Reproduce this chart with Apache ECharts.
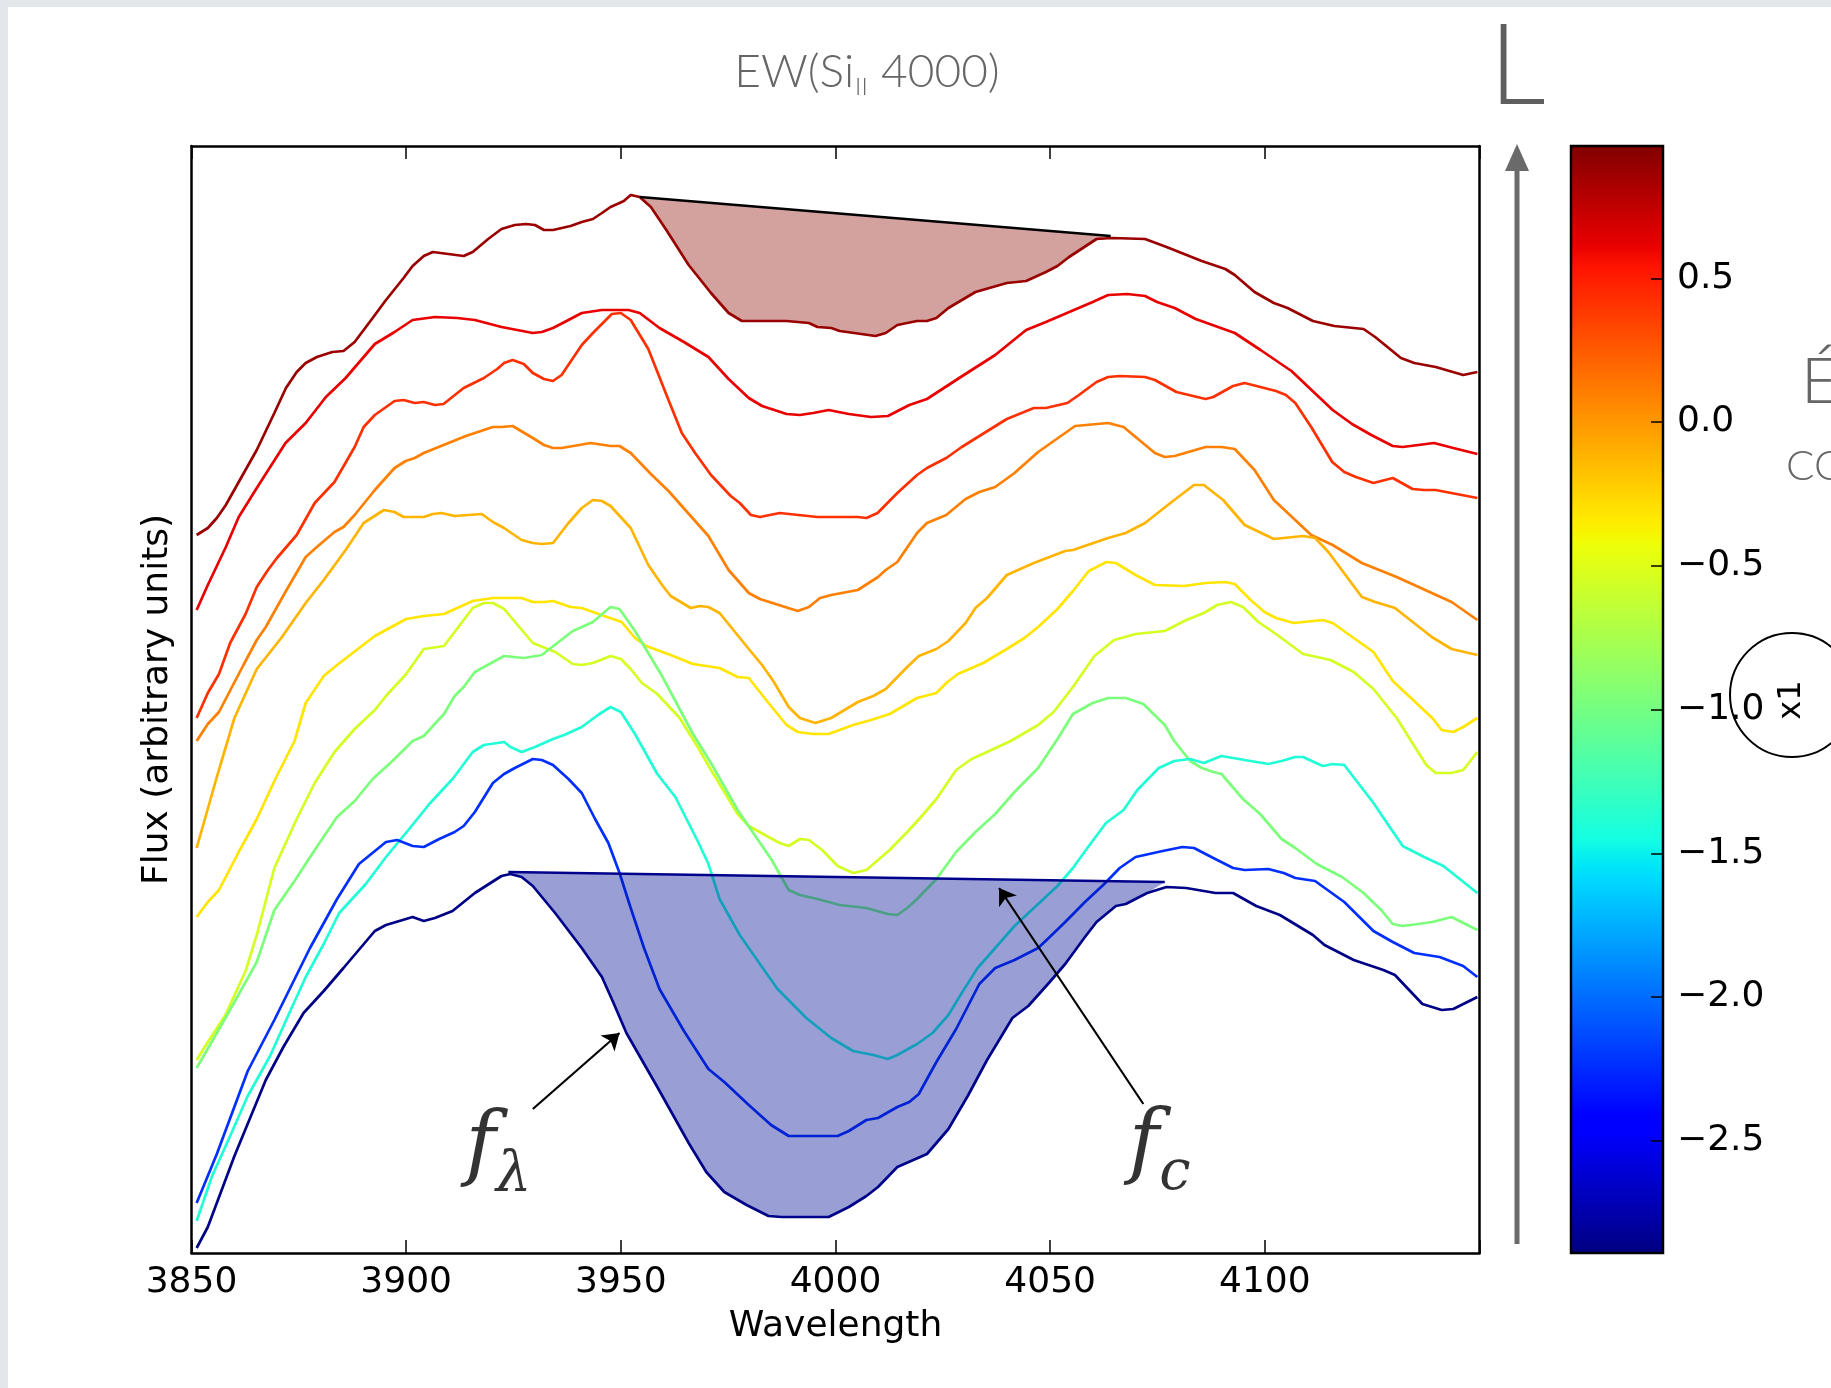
<!DOCTYPE html>
<html>
<head>
<meta charset="utf-8">
<script src="https://cdn.jsdelivr.net/npm/echarts@6/dist/echarts.min.js"></script>
<style>
  html, body { margin: 0; padding: 0; background: #fff; }
  #chart { width: 1831px; height: 1388px; }
</style>
</head>
<body>
<div id="chart"></div>
<script>
// ---------------- DATA ----------------
const xTickLabels = [3850, 3900, 3950, 4000, 4050, 4100];
const colorbarTicks = [-2.5, -2.0, -1.5, -1.0, -0.5, 0.0, 0.5];
const colorbarRange = [-2.89, 0.96];
// x1 (stretch) value of each spectrum, top to bottom
const x1Values = [0.87, 0.61, 0.42, 0.09, -0.12, -0.32, -0.55, -0.96, -1.39, -2.23, -2.87];

const specDarkRed = [[3851.2,718],[3853.8,725],[3855.9,735],[3858,748],[3861,771],[3865.2,803],[3869.3,840],[3872,865],[3874.5,881],[3876.6,890],[3879.2,896],[3882.8,901],[3885.4,902],[3888,911],[3892.2,935],[3895.3,953],[3899.4,975],[3901.5,987],[3904.1,997],[3906.2,1001],[3909.8,999],[3913.4,997],[3915.5,1001],[3919.1,1014],[3922.2,1024],[3925.3,1028],[3927.9,1029],[3930,1028],[3932.1,1023],[3934.2,1023],[3938.3,1027],[3940.9,1031],[3943.5,1034],[3945.6,1040],[3947.6,1046],[3949.7,1050],[3950.7,1052],[3952.3,1058],[3954.4,1056],[3957,1046],[3960.6,1023],[3965.8,988],[3971,960],[3975.1,940],[3978.2,932],[3988.6,932],[3993.8,930],[3995.8,926],[3999,925],[4001,922],[4009.3,917],[4011.7,920],[4014.4,928],[4019,932],[4021.3,932],[4023.5,935],[4026.3,945],[4032.6,961],[4039.9,970],[4044.4,972],[4049,981],[4051.7,987],[4054.4,996],[4060.8,1014],[4064.4,1015],[4072.1,1014],[4077.1,1006],[4085.3,992],[4090.8,984],[4093,978],[4097.6,961],[4102.1,950],[4105.3,945],[4111.2,932],[4116.2,927],[4123,924],[4125.7,916],[4131.7,895],[4134.8,890],[4139.8,886],[4146.2,878],[4149.5,881]];
const specRed = [[3851.2,643],[3853.8,668],[3858,706],[3861,736],[3865.2,765],[3871.9,810],[3876.6,830],[3881.3,856],[3885.9,875],[3890.1,896],[3892.7,909],[3897.3,921],[3901.5,933],[3906.7,936],[3911.9,935],[3916,933],[3922.2,926],[3929.5,920],[3931.6,921],[3934.2,925],[3937.8,933],[3940.9,940],[3945.6,943],[3951.8,943],[3954.4,940],[3959,925],[3964.7,911],[3970.4,896],[3975.1,874],[3979.8,855],[3982.9,847],[3988.6,839],[3991.7,838],[3994.8,840],[3998.4,843],[4003.1,839],[4008.3,836],[4012.2,837],[4017.2,848],[4021.3,854],[4029.9,878],[4037.2,898],[4044.4,923],[4049,931],[4059.9,951],[4063.5,958],[4068,959],[4072.1,957],[4074.9,951],[4079,945],[4083.9,934],[4093,920],[4099,903],[4106.2,882],[4115.8,843],[4120.3,829],[4124.8,818],[4129.8,807],[4132.1,806],[4139.4,810],[4143.9,805],[4149.5,799]];
const specRedOrange = [[3851.2,535],[3853.8,560],[3856.4,579],[3859,610],[3862.6,639],[3865.2,666],[3867.8,683],[3869.9,695],[3874.5,718],[3878.7,750],[3883.3,771],[3888,806],[3890.1,826],[3892.7,838],[3897.3,852],[3899.4,853],[3902,850],[3904.1,851],[3906.7,848],[3908.7,849],[3913.4,865],[3918.1,875],[3921.2,884],[3922.8,890],[3924.8,893],[3927.4,889],[3929.5,880],[3932.1,874],[3934.2,872],[3936.2,878],[3940.9,908],[3943.5,920],[3947.9,939],[3950,940],[3952.3,933],[3956.4,904],[3961.1,853],[3964.2,820],[3967.3,800],[3971,778],[3975.6,757],[3977.7,750],[3980.3,738],[3982.4,736],[3987,740],[3995.8,736],[4003.1,736],[4005.2,736],[4007.2,735],[4009.8,740],[4014.4,760],[4019,778],[4021.3,785],[4025.8,795],[4029.4,806],[4039.9,834],[4046.2,845],[4049,845],[4054,850],[4056.7,858],[4060.8,871],[4063.5,876],[4066.2,877],[4072.1,876],[4074.4,873],[4079.4,861],[4086.2,854],[4088,856],[4092.6,867],[4095.3,870],[4102.6,862],[4104.9,858],[4107.1,850],[4110.8,826],[4115.7,791],[4118.5,781],[4121.2,776],[4125.3,770],[4129.8,775],[4134.4,764],[4137.1,763],[4139.8,763],[4149.5,755]];
const specOrange = [[3851.2,512],[3853.8,529],[3856.4,541],[3862.1,588],[3865.2,613],[3867.3,626],[3872,662],[3876.6,696],[3879.2,706],[3883.3,721],[3885.4,726],[3888,738],[3892.7,763],[3897.3,785],[3899.9,792],[3902,795],[3904.1,800],[3913.9,817],[3920.2,826],[3922.2,826],[3924.8,827],[3929.5,815],[3932.1,808],[3934.2,805],[3936.2,805],[3943,810],[3947.6,807],[3949.7,807],[3952.3,800],[3957,779],[3961.1,762],[3970.4,717],[3975.1,683],[3979.8,660],[3982.4,654],[3991.2,642],[3993.8,646],[3996.4,655],[3999,658],[4005.2,663],[4009.9,676],[4011.7,683],[4014.4,691],[4019,720],[4021.3,730],[4025.8,738],[4030.3,754],[4033.5,761],[4037.2,766],[4041.7,780],[4047.2,801],[4055.8,827],[4063.5,830],[4067.1,826],[4074.4,800],[4076.7,796],[4079,797],[4086.2,806],[4089.9,806],[4093,804],[4097.6,783],[4102.1,753],[4110.8,718],[4115.8,708],[4122.6,690],[4130.7,676],[4143.5,651],[4149.5,633]];
const specAmber = [[3851.2,405],[3855.9,476],[3860,535],[3865.2,584],[3870.9,615],[3876.6,650],[3880.8,673],[3885.9,703],[3890.1,730],[3894.8,743],[3897.3,741],[3899.4,736],[3904.1,736],[3906.2,739],[3908.2,740],[3911.3,737],[3917.6,739],[3920.2,731],[3922.8,725],[3926.9,713],[3929.5,710],[3931.6,709],[3934.2,710],[3937.8,730],[3940.9,745],[3943.5,753],[3945.6,752],[3947.6,747],[3952.3,725],[3956.4,688],[3959.6,668],[3961.6,657],[3966.3,645],[3968.4,647],[3970.4,646],[3973,640],[3979.8,604],[3982.9,588],[3985.5,572],[3989.1,546],[3991.7,535],[3995.3,530],[3999,535],[4002.1,543],[4005.2,551],[4008.8,557],[4011.7,564],[4016.7,586],[4019.4,597],[4023.5,604],[4026.3,612],[4030.3,630],[4032.6,645],[4035.3,655],[4039.9,678],[4046.2,690],[4053.5,702],[4055.3,703],[4063.5,715],[4067.6,720],[4072.1,730],[4078,750],[4083.5,768],[4085.8,768],[4090.3,753],[4095.3,728],[4102.1,714],[4108.9,717],[4111.7,715],[4114.8,701],[4122.6,656],[4125.7,651],[4130.3,645],[4138.9,616],[4143.5,604],[4149.5,598]];
const specYellow = [[3851.2,336],[3853.8,351],[3856.4,363],[3861,401],[3865.2,434],[3869.3,472],[3874,512],[3876.6,550],[3880.8,577],[3883.9,588],[3892.7,617],[3900,634],[3904.1,637],[3908.8,639],[3915.5,652],[3920.2,655],[3926.9,655],[3929.5,651],[3932.1,651],[3934.2,652],[3938.3,646],[3940.9,645],[3946.1,637],[3950.2,631],[3953.3,615],[3955.9,607],[3961.6,598],[3966.8,589],[3973,585],[3977.2,576],[3979.8,575],[3984.4,550],[3988.6,528],[3991.2,521],[3994.8,519],[3998.4,519],[4004.1,528],[4008.3,533],[4012.6,539],[4019,555],[4023.5,560],[4025.8,570],[4028.5,579],[4034.4,590],[4039.9,604],[4044,615],[4047.2,626],[4051.7,644],[4055.3,662],[4059,682],[4063.1,691],[4065.3,690],[4069.9,678],[4074.4,668],[4081.2,667],[4086.2,670],[4090.8,671],[4093,669],[4096.7,653],[4099.9,641],[4102.6,635],[4106.7,630],[4113.5,633],[4115.8,630],[4120.7,615],[4125.3,601],[4129.8,572],[4139,535],[4141.2,523],[4143.9,521],[4146.2,526],[4149.5,535]];
const specLime = [[3851.2,193],[3853.8,211],[3857.9,238],[3862.6,282],[3865.2,318],[3869.3,385],[3874.5,434],[3878.7,470],[3883.3,501],[3888,524],[3892.7,543],[3895.3,557],[3900,579],[3904.1,604],[3908.8,607],[3915.5,645],[3918.1,650],[3920.2,650],[3922.8,644],[3929.5,610],[3934.7,601],[3938.8,589],[3940.9,588],[3943.5,590],[3947.6,597],[3950,594],[3952.3,584],[3954.9,570],[3958.5,559],[3963.7,535],[3967.9,506],[3971,483],[3974.1,461],[3977.2,439],[3979.8,427],[3984.4,416],[3987,410],[3989.1,407],[3991.7,414],[3993.8,413],[3996.9,403],[4000.5,387],[4004.1,380],[4007.2,383],[4009.9,393],[4012.6,403],[4016.7,421],[4019.9,436],[4023.5,454],[4028.1,483],[4031.7,494],[4035.3,501],[4040.8,512],[4047.2,528],[4050.8,541],[4055.3,566],[4060.3,597],[4064.9,613],[4069.9,619],[4076.7,622],[4081.7,633],[4085.8,640],[4088.9,648],[4092.1,651],[4094.9,646],[4098.5,631],[4102.6,619],[4108.9,599],[4115.3,593],[4120.7,581],[4125.3,564],[4130.7,535],[4137.6,488],[4139.8,480],[4143.5,480],[4146.2,483],[4149.5,501]];
const specGreen = [[3851.2,185],[3855.9,220],[3860,251],[3865.2,291],[3869.3,343],[3874,372],[3878.7,403],[3883.9,436],[3888,452],[3892.2,474],[3896.8,492],[3901.5,512],[3904.1,517],[3908.8,539],[3911.3,557],[3913.4,566],[3916,581],[3922.8,597],[3927.4,595],[3931.6,598],[3938.8,622],[3943.5,631],[3947.6,646],[3949.7,644],[3953.3,622],[3959.6,577],[3966.8,519],[3971,490],[3977.2,443],[3981.8,414],[3985,394],[3989.1,363],[3991.7,358],[3995.8,354],[4001,348],[4007.2,345],[4012.2,339],[4014.4,338],[4016.7,345],[4019,354],[4023.5,374],[4028.1,401],[4032.6,421],[4037.2,439],[4041.7,461],[4047.2,485],[4051.7,514],[4055.3,539],[4059.9,550],[4063.5,555],[4067.6,555],[4071.7,549],[4076.7,528],[4078.9,512],[4082.6,492],[4085.3,485],[4088,481],[4089.9,479],[4094.9,454],[4098.9,439],[4103.9,414],[4107.1,405],[4112.1,389],[4118,376],[4123,360],[4127.1,343],[4129.8,329],[4132.1,327],[4135.7,329],[4139,331],[4143.5,336],[4149.5,323]];
const specCyan = [[3851.2,32],[3854.8,77],[3859,117],[3863.1,157],[3868.3,197],[3873,242],[3876.6,276],[3880.8,309],[3884.4,340],[3890.6,369],[3895.3,396],[3900.5,423],[3905.6,450],[3910.8,474],[3915.5,501],[3918.1,508],[3922.8,511],[3924.3,506],[3926.9,501],[3930,506],[3934.2,514],[3936.8,518],[3940.9,526],[3945,539],[3947.6,546],[3950,541],[3953.3,519],[3958.5,479],[3962.7,456],[3967.9,412],[3970.4,389],[3973,354],[3977.7,318],[3982.4,289],[3986.5,264],[3993.2,235],[3999,215],[4004.1,202],[4008.8,198],[4012.2,194],[4014.4,198],[4019,209],[4022.6,220],[4026.3,238],[4029.4,260],[4033.1,285],[4037.2,305],[4041.7,327],[4047.2,349],[4051.7,367],[4055.3,385],[4059,407],[4063,430],[4067.1,443],[4070.3,463],[4075.3,485],[4078.9,492],[4082.6,494],[4085.8,490],[4089.9,497],[4095.3,493],[4100.8,489],[4103.9,492],[4107.1,496],[4108.9,496],[4113.5,487],[4115.8,489],[4118.5,488],[4125.3,450],[4132.1,407],[4137.1,396],[4141.6,387],[4149.5,360]];
const specBlue = [[3851.2,50],[3855.9,99],[3863.1,182],[3869.3,233],[3877.6,305],[3883.9,354],[3889,389],[3895.3,411],[3897.9,413],[3901.5,407],[3904.1,406],[3907.7,414],[3911.3,421],[3913.4,427],[3916,441],[3920.2,470],[3922.8,479],[3925.3,485],[3929.5,494],[3931.6,493],[3934.2,488],[3937.8,474],[3940.9,460],[3944,434],[3947.1,410],[3949.7,380],[3952.3,345],[3955.4,305],[3959,264],[3964.7,222],[3970.4,184],[3974.1,171],[3979.8,148],[3985,128],[3989.1,117],[4000.5,117],[4003.1,122],[4007.2,133],[4009.9,135],[4014.4,146],[4017.2,151],[4019.4,159],[4023.5,191],[4028.1,224],[4033.5,269],[4037.2,285],[4041.7,293],[4047.2,305],[4049.9,316],[4053.5,331],[4058.1,351],[4062.6,369],[4066.2,385],[4069.9,396],[4076.2,402],[4080.8,406],[4083.5,405],[4088,395],[4092.6,385],[4095.3,383],[4100.8,384],[4104.4,380],[4107.1,375],[4111.7,372],[4118.5,351],[4125.3,322],[4129.8,311],[4134.8,300],[4140.7,296],[4146.2,287],[4149.5,276]];
const specNavy = [[3851.2,5],[3853.8,26],[3860,97],[3867.3,173],[3871.4,206],[3876.1,240],[3880.8,262],[3885.4,285],[3892.7,322],[3895.3,328],[3901.5,336],[3904.1,332],[3906.7,335],[3910.8,342],[3916,360],[3922.2,377],[3924.3,379],[3926.9,376],[3929.5,367],[3934.7,340],[3940.9,305],[3945.6,276],[3948.2,251],[3951.3,220],[3958.5,166],[3965.8,110],[3969.9,81],[3974.1,61],[3979.3,48],[3984.4,37],[3987.5,36],[3998.4,36],[4003.1,46],[4007.2,57],[4009.9,66],[4014.4,86],[4021.3,99],[4026.3,124],[4030.8,157],[4035.3,193],[4041.2,235],[4044.9,247],[4049.9,271],[4053.5,289],[4058.1,316],[4060.8,331],[4065.3,347],[4067.6,349],[4072.6,360],[4077.1,366],[4081.7,365],[4088.5,360],[4092.6,360],[4098,347],[4103.5,338],[4111.2,318],[4113.9,308],[4120.7,293],[4127.6,283],[4130.3,278],[4136.7,249],[4141.2,243],[4143.9,244],[4149.5,256]];

// pseudo-continuum lines (start, end)
const contTop = [[3954.4,1056],[4064.1,1017]];
const contBottom = [[3923.8,381],[4076.7,371]];
// annotation arrows: [tail, head]
const arrowFLambda = [[3929.5,144],[3949.7,220]];
const arrowFc = [[4071.7,149],[4038.1,365]];
const labelFLambda = [3921.5,108];
const labelFc = [4075.5,110];

const spectra = [specDarkRed, specRed, specRedOrange, specOrange, specAmber, specYellow, specLime, specGreen, specCyan, specBlue, specNavy];

// ---------------- JET COLORMAP ----------------
const jetStops = [[0,[0,0,128]],[0.11,[0,0,255]],[0.125,[0,0,255]],[0.34,[0,219,255]],[0.35,[0,230,247]],[0.375,[21,255,226]],[0.64,[238,255,8]],[0.65,[247,245,0]],[0.66,[255,236,0]],[0.89,[255,19,0]],[0.91,[232,0,0]],[1,[128,0,0]]];
function jet(t) {
  t = Math.max(0, Math.min(1, t));
  for (let i = 1; i < jetStops.length; i++) {
    const [t1, c1] = jetStops[i];
    const [t0, c0] = jetStops[i-1];
    if (t <= t1) {
      const f = (t - t0) / (t1 - t0 || 1);
      const c = c0.map((v, k) => Math.round(v + (c1[k] - v) * f));
      return 'rgb(' + c.join(',') + ')';
    }
  }
  return 'rgb(128,0,0)';
}
const valToT = v => (v - colorbarRange[0]) / (colorbarRange[1] - colorbarRange[0]);

// ---------------- CHART ----------------
const chart = echarts.init(document.getElementById('chart'), null, { renderer: 'canvas' });
const TICK_FONT = 'DejaVu Sans';
const MATH_FONT = 'DejaVu Serif';

function fillSeries(curve, cont, color, z) {
  const [x0, y0] = cont[0], [x1, y1] = cont[1];
  const pts = curve.filter(p => p[0] > x0 && p[0] < x1);
  return {
    type: 'custom', xAxisIndex: 0, yAxisIndex: 0, silent: true, z: z,
    data: [cont[0]],
    encode: { x: 0, y: 1 },
    renderItem: function (params, api) {
      const poly = [api.coord([x0, y0]), api.coord([x1, y1])];
      for (let i = pts.length - 1; i >= 0; i--) poly.push(api.coord(pts[i]));
      return { type: 'polygon', shape: { points: poly }, style: { fill: color } };
    }
  };
}

const series = [];
spectra.forEach((d, i) => {
  series.push({
    type: 'line', xAxisIndex: 0, yAxisIndex: 0, data: d, showSymbol: false, symbol: 'none',
    lineStyle: { width: 2.7, color: jet(valToT(x1Values[i])) }, z: 2, silent: true, animation: false
  });
});
series.push(fillSeries(specDarkRed, contTop, 'rgba(140,10,0,0.38)', 3));
series.push(fillSeries(specNavy, contBottom, 'rgba(0,16,150,0.40)', 5));
series.push({ type: 'line', data: contTop, symbol: 'none', lineStyle: { color: '#000', width: 2.6 }, z: 6, silent: true });
series.push({ type: 'line', data: contBottom, symbol: 'none', lineStyle: { color: '#00008b', width: 2.6 }, z: 6, silent: true });
series.push({
  type: 'lines', coordinateSystem: 'cartesian2d', xAxisIndex: 0, yAxisIndex: 0, z: 7, silent: true,
  symbol: ['none', 'arrow'], symbolSize: 16,
  lineStyle: { color: '#000', width: 2.2, opacity: 1 },
  data: [{ coords: arrowFLambda }, { coords: arrowFc }]
});
series.push({
  type: 'scatter', xAxisIndex: 0, yAxisIndex: 0, symbolSize: 1, itemStyle: { color: 'rgba(0,0,0,0)' }, z: 8, silent: true,
  data: [
    { value: labelFLambda, name: 'l' },
    { value: labelFc, name: 'c' }
  ],
  label: {
    show: true, position: 'inside',
    formatter: p => p.name === 'l' ? '{f|f}{s|λ}' : '{f|f}{s|c}',
    rich: {
      f: { fontFamily: MATH_FONT, fontStyle: 'italic', fontSize: 82, color: '#000', lineHeight: 90, verticalAlign: 'bottom' },
      s: { fontFamily: MATH_FONT, fontStyle: 'italic', fontSize: 56, color: '#000', lineHeight: 90, verticalAlign: 'bottom', padding: [0, 0, -14, 0] }
    }
  }
});
// colorbar
series.push({
  type: 'custom', xAxisIndex: 2, yAxisIndex: 2, silent: true, z: 1,
  data: [[0, colorbarRange[1]]],
  encode: { x: 0, y: 1 },
  renderItem: function (params, api) {
    const p0 = api.coord([0, colorbarRange[1]]);
    const p1 = api.coord([1, colorbarRange[0]]);
    const stops = jetStops.map(s => ({ offset: 1 - s[0], color: 'rgb(' + s[1].join(',') + ')' })).reverse();
    return {
      type: 'rect',
      shape: { x: p0[0], y: p0[1], width: p1[0] - p0[0], height: p1[1] - p0[1] },
      style: { fill: new echarts.graphic.LinearGradient(0, 0, 0, 1, stops), stroke: '#000', lineWidth: 2.5 }
    };
  }
});

const axisLineStyle = { color: '#000', width: 2.5 };
const tickStyle = { color: '#000', width: 1.5 };
const option = {
  backgroundColor: '#ffffff',
  animation: false,
  title: {
    text: '{a|EW(Si}{b|II}{a| 4000)}',
    left: 862, top: 34, textAlign: 'center',
    textStyle: {
      rich: {
        a: { fontFamily: 'Lato', fontWeight: 300, fontSize: 46, color: '#666666', verticalAlign: 'bottom', lineHeight: 56 },
        b: { fontFamily: 'Lato', fontWeight: 300, fontSize: 24, color: '#666666', verticalAlign: 'bottom', lineHeight: 56, padding: [0, 1, -4, 1] }
      }
    }
  },
  grid: [
    { left: 191.5, top: 146, width: 1288, height: 1107, containLabel: false },
    { left: 1571, top: 146, width: 92, height: 1107, containLabel: false }
  ],
  xAxis: [
    {
      type: 'value', gridIndex: 0, min: 3850, max: 4150, interval: 50, position: 'bottom',
      name: 'Wavelength', nameLocation: 'middle', nameGap: 56,
      nameTextStyle: { fontFamily: TICK_FONT, fontSize: 36, color: '#000' },
      axisLine: { show: true, onZero: false, lineStyle: axisLineStyle },
      axisTick: { show: true, inside: true, length: 13, lineStyle: tickStyle },
      axisLabel: { show: true, customValues: xTickLabels, margin: 12, fontFamily: TICK_FONT, fontSize: 36, color: '#000', formatter: v => String(v) },
      splitLine: { show: false }
    },
    {
      type: 'value', gridIndex: 0, min: 3850, max: 4150, interval: 50, position: 'top',
      axisLine: { show: true, onZero: false, lineStyle: axisLineStyle },
      axisTick: { show: true, inside: true, length: 13, lineStyle: tickStyle },
      axisLabel: { show: false }, splitLine: { show: false }
    },
    { type: 'value', gridIndex: 1, min: 0, max: 1, show: false }
  ],
  yAxis: [
    {
      type: 'value', gridIndex: 0, min: 0, max: 1107, position: 'left',
      name: 'Flux (arbitrary units)', nameLocation: 'middle', nameGap: 16, nameRotate: 90,
      nameTextStyle: { fontFamily: TICK_FONT, fontSize: 36, color: '#000' },
      axisLine: { show: true, onZero: false, lineStyle: axisLineStyle },
      axisTick: { show: false }, axisLabel: { show: false }, splitLine: { show: false }
    },
    {
      type: 'value', gridIndex: 0, min: 0, max: 1107, position: 'right',
      axisLine: { show: true, onZero: false, lineStyle: axisLineStyle },
      axisTick: { show: false }, axisLabel: { show: false }, splitLine: { show: false }
    },
    {
      type: 'value', gridIndex: 1, min: colorbarRange[0], max: colorbarRange[1], position: 'right', z: 20,
      axisLine: { show: false, onZero: false },
      axisTick: { show: true, inside: true, length: 12, customValues: colorbarTicks, lineStyle: tickStyle },
      axisLabel: {
        show: true, customValues: colorbarTicks, margin: 14, fontFamily: TICK_FONT, fontSize: 36, color: '#000',
        formatter: v => (v < -1e-9 ? '\u2212' : '') + Math.abs(v).toFixed(1)
      },
      splitLine: { show: false }
    }
  ],
  graphic: [
    { type: 'rect', shape: { x: 0, y: 0, width: 1831, height: 7 }, style: { fill: '#e3e6ea' }, z: 100 },
    { type: 'rect', shape: { x: 0, y: 0, width: 8, height: 1388 }, style: { fill: '#e3e6ea' }, z: 100 },
    { type: 'text', x: 1489, y: 124, style: { text: 'L', fontFamily: 'Lato', fontWeight: 300, fontSize: 112, fill: '#5f5f5f', verticalAlign: 'bottom' }, z: 100 },
    { type: 'line', shape: { x1: 1517, y1: 1244, x2: 1517, y2: 165 }, style: { stroke: '#6a6a6a', lineWidth: 5 }, z: 100 },
    { type: 'polygon', shape: { points: [[1517, 144], [1505, 171], [1529, 171]] }, style: { fill: '#6a6a6a' }, z: 100 },
    { type: 'text', x: 1801, y: 414, style: { text: 'É', fontFamily: 'Lato', fontWeight: 300, fontSize: 64, fill: '#666666', verticalAlign: 'bottom' }, z: 100 },
    { type: 'text', x: 1786, y: 487, style: { text: 'CO', fontFamily: 'Lato', fontWeight: 300, fontSize: 42, fill: '#666666', verticalAlign: 'bottom' }, z: 100 },
    { type: 'circle', shape: { cx: 1792, cy: 695, r: 62 }, style: { fill: 'none', stroke: '#000', lineWidth: 2 }, z: 100 },
    { type: 'text', x: 1792, y: 700, rotation: Math.PI / 2, style: { text: 'x1', fontFamily: TICK_FONT, fontSize: 32, fill: '#000', align: 'center', verticalAlign: 'middle' }, z: 100 }
  ],
  series: series
};
chart.setOption(option);
</script>
</body>
</html>
